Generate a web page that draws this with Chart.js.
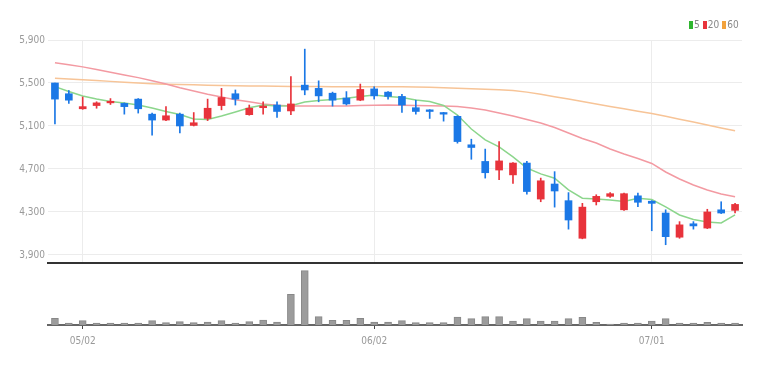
<!DOCTYPE html>
<html>
<head>
<meta charset="utf-8">
<script src="https://cdn.jsdelivr.net/npm/chart.js@4.4.1/dist/chart.umd.min.js"></script>
<style>
  body { margin: 0; background: #fff; width: 772px; height: 365px; overflow: hidden; position: relative;
         font-family: 'Liberation Sans Narrow', 'DejaVu Sans Condensed', sans-serif; }
  #priceChart { position: absolute; left: 0; top: 0; }
  #volChart { position: absolute; left: 0; top: 265px; }
  .legend { position: absolute; top: 20px; left: 689px; font-size: 10px; line-height: 10px; color: #888; display: flex; align-items: center; }
  .legend i { display: inline-block; width: 4px; height: 8px; margin: 0 1px 0 3px; }
  .legend i:first-child { margin-left: 0; }
</style>
</head>
<body>
<canvas id="priceChart" width="772" height="265"></canvas>
<canvas id="volChart" width="772" height="100"></canvas>
<div class="legend">
  <i style="background:#2fb52f"></i><span>5</span>
  <i style="background:#e8333b"></i><span>20</span>
  <i style="background:#f2a23c"></i><span>60</span>
</div>
<script>
// ===== DATA =====
const dates = ['04/30','05/01','05/02','05/05','05/06','05/07','05/08','05/09','05/12','05/13',
  '05/14','05/15','05/16','05/19','05/20','05/21','05/22','05/23','05/26','05/27',
  '05/28','05/29','05/30','06/02','06/04','06/05','06/06','06/09','06/10','06/11',
  '06/12','06/13','06/16','06/17','06/18','06/19','06/20','06/23','06/24','06/25',
  '06/26','06/27','06/30','07/01','07/02','07/03','07/04','07/07','07/08','07/09'];
const tickDates = ['05/02', '06/02', '07/01'];
const priceTicks = [3900, 4300, 4700, 5100, 5500, 5900];

const opens  = [5500,5400,5260,5290,5315,5310,5350,5210,5155,5210, 5105,5170,5290,5400,5205,5270,5295,5240,5480,5450,
                5405,5360,5340,5445,5415,5375,5270,5250,5225,5190, 4925,4770,4690,4645,4755,4420,4560,4405,4055,4395,
                4445,4320,4450,4400,4290,4065,4190,4150,4320,4315];
const highs  = [5500,5430,5370,5325,5355,5315,5355,5220,5280,5220, 5225,5350,5450,5435,5295,5325,5325,5560,5815,5520,
                5415,5420,5490,5465,5420,5395,5340,5252,5227,5195, 4977,4885,4955,4760,4770,4615,4675,4480,4380,4460,
                4480,4475,4475,4405,4320,4210,4210,4325,4395,4380];
const lows   = [5120,5310,5255,5265,5300,5210,5220,5015,5150,5035, 5100,5150,5250,5295,5200,5210,5180,5205,5390,5325,
                5285,5295,5335,5350,5350,5225,5210,5170,5145,4940, 4790,4615,4600,4565,4465,4395,4345,4140,4050,4365,
                4435,4315,4350,4125,3995,4055,4140,4145,4285,4290];
const closes = [5350,5340,5280,5315,5330,5280,5260,5155,5195,5100, 5130,5265,5365,5350,5265,5285,5235,5305,5435,5380,
                5340,5305,5440,5380,5375,5295,5235,5235,5210,4955, 4900,4665,4775,4755,4490,4590,4495,4225,4345,4445,
                4470,4470,4390,4380,4070,4180,4170,4300,4290,4370];

const ma5  = [5466,5421,5379,5351,5328,5314,5295,5267,5235,5207, 5165,5160,5193,5230,5270,5295,5286,5289,5323,5337,
              5347,5358,5374,5388,5374,5365,5342,5328,5291,5202, 5072,4970,4905,4812,4709,4654,4614,4505,4428,4421,
              4412,4398,4428,4416,4347,4272,4230,4207,4198,4272];
const ma20 = [5689,5670,5650,5625,5600,5575,5550,5520,5490,5455, 5425,5395,5370,5345,5325,5305,5292,5287,5285,5285,
              5285,5287,5290,5293,5295,5293,5290,5288,5285,5281, 5267,5249,5221,5193,5160,5128,5086,5035,4984,4942,
              4886,4840,4798,4751,4672,4607,4551,4505,4468,4442];
const ma60 = [5544,5537,5530,5523,5515,5507,5500,5494,5489,5486, 5483,5480,5477,5475,5473,5471,5469,5468,5467,5467,
              5466,5466,5466,5466,5466,5465,5463,5460,5456,5452, 5447,5442,5437,5430,5415,5395,5372,5350,5328,5305,
              5282,5260,5238,5216,5190,5163,5136,5110,5082,5055];

const volumes = [134000,40000,86000,40000,40000,40000,40000,86000,46000,66000,
                 46000,60000,86000,40000,66000,100000,60000,614000,1086000,166000,
                 94000,94000,134000,60000,60000,86000,46000,46000,46000,160000,
                 126000,166000,166000,80000,126000,80000,80000,126000,154000,54000,
                 20000,40000,40000,80000,126000,40000,40000,54000,40000,40000];

// ===== STYLE =====
const UP = '#e8333b', DOWN = '#1b78e6';
const FONT = { family: "'Liberation Sans Narrow', 'DejaVu Sans Condensed', sans-serif", size: 10 };
const candleColors = opens.map((o, i) => closes[i] >= o ? UP : DOWN);
const isTick = i => tickDates.includes(dates[i]);

// ===== PRICE CHART =====
new Chart(document.getElementById('priceChart'), {
  data: {
    labels: dates,
    datasets: [
      { type: 'line', label: '5', data: ma5, borderColor: '#8cd68c', borderWidth: 1.5, pointRadius: 0, order: 3 },
      { type: 'line', label: '20', data: ma20, borderColor: '#f39aa2', borderWidth: 1.5, pointRadius: 0, order: 3 },
      { type: 'line', label: '60', data: ma60, borderColor: '#f7c497', borderWidth: 1.5, pointRadius: 0, order: 3 },
      {
        type: 'bar', label: 'wick', data: lows.map((l, i) => [l, highs[i]]),
        backgroundColor: candleColors, barThickness: 1, grouped: false, order: 2
      },
      {
        type: 'bar', label: 'body', data: opens.map((o, i) => [o, closes[i]]),
        backgroundColor: candleColors, barThickness: 7, grouped: false, order: 1
      }
    ]
  },
  options: {
    responsive: false,
    animation: false,
    layout: { padding: { top: 40, right: 30, bottom: 2, left: 0 } },
    plugins: { legend: { display: false }, tooltip: { enabled: false } },
    scales: {
      x: {
        offset: true,
        grid: {
          offset: false, drawTicks: false,
          color: c => (c.tick && isTick(c.tick.value)) ? '#ececec' : 'rgba(0,0,0,0)'
        },
        border: { color: '#333', width: 2 },
        ticks: { display: false, autoSkip: false },
        afterFit: a => { a.height = 0; a.paddingLeft = 0; a.paddingRight = 0; }
      },
      y: {
        min: 3825, max: 5900,
        afterBuildTicks: a => { a.ticks = priceTicks.map(v => ({ value: v })); },
        grid: { color: '#ececec', drawTicks: false },
        border: { display: false },
        ticks: { color: '#999', padding: 3, font: FONT, callback: v => v.toLocaleString('en-US') },
        afterFit: a => { a.width = 48; a.paddingTop = 0; a.paddingBottom = 0; }
      }
    }
  }
});

// ===== VOLUME CHART =====
new Chart(document.getElementById('volChart'), {
  type: 'bar',
  data: {
    labels: dates,
    datasets: [{
      data: volumes, backgroundColor: '#9c9c9c', borderColor: '#888', borderWidth: 1, barThickness: 7
    }]
  },
  options: {
    responsive: false,
    animation: false,
    layout: { padding: { top: 0, right: 30, bottom: 0, left: 48 } },
    plugins: { legend: { display: false }, tooltip: { enabled: false } },
    scales: {
      x: {
        offset: true,
        grid: {
          offset: false, drawOnChartArea: false, drawTicks: true, tickLength: 4,
          color: c => (c.tick && isTick(c.tick.value)) ? '#444' : 'rgba(0,0,0,0)'
        },
        border: { color: '#666', width: 2 },
        ticks: {
          autoSkip: false, maxRotation: 0, padding: 6, color: '#999', font: FONT,
          callback: (v, i) => isTick(i) ? dates[i] : ''
        },
        afterFit: a => { a.height = 40; a.paddingLeft = 0; a.paddingRight = 0; }
      },
      y: { display: false, min: 0, max: 1200000 }
    }
  }
});
</script>
</body>
</html>
